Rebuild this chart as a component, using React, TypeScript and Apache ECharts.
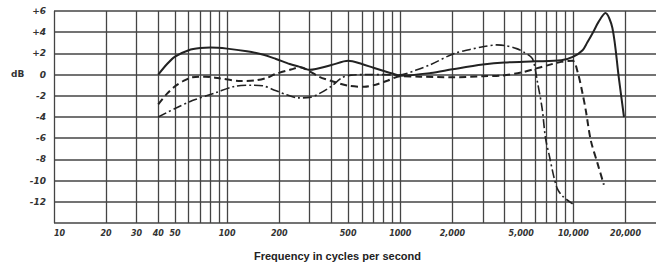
import React, { useEffect, useRef } from "react";
import * as echarts from "echarts";

// Vertical grid lines (Hz) and labelled frequencies
const gridFreqs = [10, 20, 30, 40, 50, 60, 70, 80, 90, 100, 200, 300, 400, 500, 600, 700, 800, 900, 1000, 2000, 3000, 4000, 5000, 6000, 7000, 8000, 9000, 10000, 20000];
const labelFreqs = [10, 20, 30, 40, 50, 100, 200, 500, 1000, 2000, 5000, 10000, 20000];

// Solid curve
const solidFreq = [40, 45, 50, 60, 70, 80, 100, 130, 160, 190, 230, 260, 300, 400, 500, 600, 700, 900, 1000, 1500, 2000, 3000, 4000, 6000, 8500, 10000, 11300, 12000, 13000, 14000, 15300, 16800, 18300, 19600];
const solidDb = [0, 1.0, 1.7, 2.3, 2.5, 2.55, 2.45, 2.2, 1.9, 1.5, 1.0, 0.75, 0.45, 0.9, 1.3, 1.0, 0.65, 0.1, -0.1, 0.15, 0.5, 0.95, 1.15, 1.25, 1.35, 1.7, 2.3, 3.0, 4.0, 5.0, 5.8, 4.4, -0.3, -4.0];

// Dashed curve
const dashFreq = [40, 45, 50, 56, 63, 75, 90, 120, 145, 170, 190, 236, 265, 293, 340, 400, 500, 620, 720, 850, 1000, 1300, 2000, 3000, 3800, 5000, 6000, 7000, 8500, 9900, 10600, 11300, 11800, 12600, 13800, 15000];
const dashDb = [-2.8, -1.8, -1.1, -0.6, -0.25, -0.2, -0.35, -0.6, -0.55, -0.3, 0.05, 0.5, 0.7, 0.4, -0.2, -0.6, -1.05, -1.15, -0.95, -0.55, -0.15, -0.2, -0.25, -0.15, -0.1, 0.2, 0.55, 0.85, 1.2, 1.3, 0.2, -1.8, -3.4, -6.2, -8.4, -10.4];

// Dash-dot curve
const dotFreq = [40, 50, 63, 86, 111, 139, 160, 190, 220, 258, 300, 340, 400, 460, 520, 620, 800, 970, 1250, 1500, 2050, 2500, 3050, 3600, 4000, 4700, 5200, 5800, 6200, 6600, 6900, 7250, 7700, 8100, 8700, 9900];
const dotDb = [-4, -3.2, -2.45, -1.7, -1.1, -1.0, -1.05, -1.5, -1.9, -2.2, -2.15, -1.8, -1.1, -0.3, -0.05, 0, 0, -0.05, 0.45, 0.95, 2.0, 2.35, 2.65, 2.8, 2.75, 2.45, 2.1, 1.5, -0.7, -3.2, -6.0, -7.6, -9.6, -10.8, -11.5, -12.2];

const pairs = (xs: number[], ys: number[]) => xs.map((x, i) => [x, ys[i]]);

export default function App() {
  const ref = useRef<HTMLDivElement>(null);
  useEffect(() => {
    document.body.style.margin = "0";
    const chart = echarts.init(ref.current!, null, { renderer: "svg" });
    const lineColor = "#222";
    chart.setOption({
      animation: false,
      backgroundColor: "#fff",
      grid: { left: 54, right: 0, top: 11, bottom: 39 },
      xAxis: {
        type: "log",
        logBase: 10,
        min: 10,
        max: 30000,
        axisLine: { show: false },
        axisTick: { show: false, customValues: gridFreqs },
        splitLine: { show: true, lineStyle: { color: "#444", width: 1.3 } },
        axisLabel: {
          customValues: labelFreqs,
          alignMinLabel: "left",
          margin: 6,
          fontSize: 8,
          fontStyle: "italic",
          fontWeight: "bold",
          fontFamily: "DejaVu Sans",
          color: "#333",
          formatter: (v: number) => (v >= 2000 ? v.toLocaleString("en-US") : String(v)),
        },
      },
      yAxis: {
        type: "value",
        min: -14,
        max: 6,
        interval: 2,
        axisLine: { show: false },
        axisTick: { show: false },
        splitLine: { show: true, lineStyle: { color: "#444", width: 1.5 } },
        axisLabel: {
          margin: 8,
          fontSize: 9,
          fontStyle: "italic",
          fontWeight: "bold",
          fontFamily: "DejaVu Sans",
          color: "#333",
          formatter: (v: number) => (v === -14 ? "" : v > 0 ? "+" + v : String(v)),
        },
      },
      graphic: [
        {
          type: "text",
          left: 11,
          top: 69,
          style: { text: "dB", fontSize: 9, fontWeight: "bold", fontFamily: "DejaVu Sans", fill: "#333" },
        },
        {
          type: "text",
          left: 254,
          top: 250,
          style: { text: "Frequency in cycles per second", fontSize: 11, fontWeight: "bold", fontFamily: "Liberation Sans", fill: "#222" },
        },
      ],
      series: [
        {
          type: "line",
          data: pairs(solidFreq, solidDb),
          smooth: 0.3,
          showSymbol: false,
          lineStyle: { color: lineColor, width: 2 },
        },
        {
          type: "line",
          data: pairs(dashFreq, dashDb),
          smooth: 0.3,
          showSymbol: false,
          lineStyle: { color: lineColor, width: 2, type: [7, 4] },
        },
        {
          type: "line",
          data: pairs(dotFreq, dotDb),
          smooth: 0.3,
          showSymbol: false,
          lineStyle: { color: lineColor, width: 1.6, type: [9, 3, 2, 3] },
        },
      ],
    });
    return () => chart.dispose();
  }, []);
  return <div ref={ref} style={{ width: 656, height: 262 }} />;
}
